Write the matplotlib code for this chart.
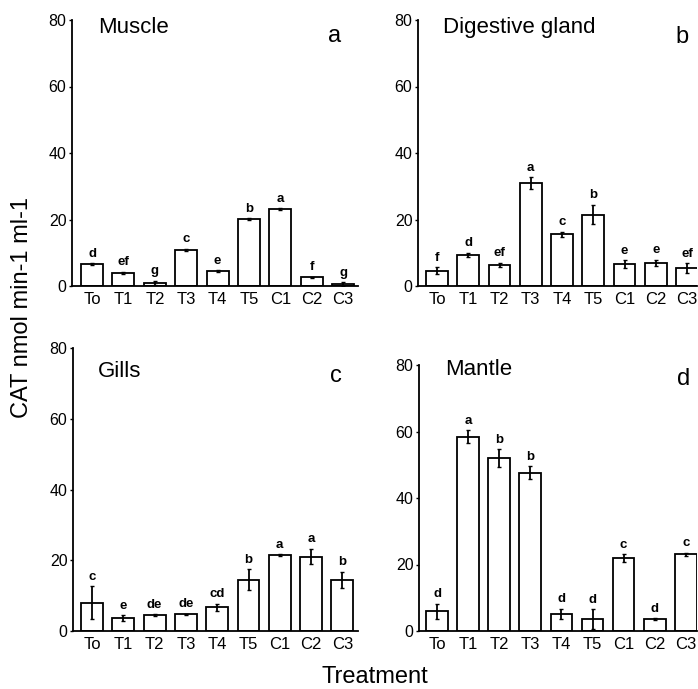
import matplotlib.pyplot as plt
import numpy as np

plt.rcParams['font.family'] = ['Liberation Sans', 'DejaVu Sans']

treatments = ['To', 'T1', 'T2', 'T3', 'T4', 'T5', 'C1', 'C2', 'C3']

muscle = [6.6, 4.0, 1.0, 10.9, 4.5, 20.2, 23.2, 2.6, 0.6]
muscle_err = [0.3, 0.3, 0.6, 0.3, 0.2, 0.2, 0.3, 0.2, 0.5]
muscle_let = ['d', 'ef', 'g', 'c', 'e', 'b', 'a', 'f', 'g']

digestive = [4.6, 9.3, 6.3, 30.9, 15.5, 21.5, 6.6, 6.9, 5.4]
digestive_err = [1.0, 0.7, 0.7, 1.8, 0.8, 3.0, 1.2, 1.0, 1.5]
digestive_let = ['f', 'd', 'ef', 'a', 'c', 'b', 'e', 'e', 'ef']

gills = [8.0, 3.7, 4.4, 4.7, 6.7, 14.5, 21.4, 21.0, 14.5]
gills_err = [4.6, 0.8, 0.3, 0.2, 1.0, 2.9, 0.3, 2.2, 2.3]
gills_let = ['c', 'e', 'de', 'de', 'cd', 'b', 'a', 'a', 'b']

mantle = [5.9, 58.4, 52.0, 47.6, 5.2, 3.6, 22.0, 3.5, 23.1]
mantle_err = [2.3, 2.0, 2.7, 2.0, 1.5, 3.0, 1.2, 0.3, 0.5]
mantle_let = ['d', 'a', 'b', 'b', 'd', 'd', 'c', 'd', 'c']

W, H = 698, 689
fig = plt.figure(figsize=(W / 100, H / 100), dpi=100)

def px(xp, yp):
    return xp / W, 1 - yp / H

# axes boxes in pixels: left, right, top, bottom; title and tag spots in pixels
panels = [
    (muscle, muscle_err, muscle_let, 'Muscle', 'a', (72, 358, 20, 286), (-0.64, 8.47), (98, 33), (335, 42)),
    (digestive, digestive_err, digestive_let, 'Digestive gland', 'b', (418, 697, 20, 286), (-0.61, 8.32), (443, 33), (682, 43)),
    (gills, gills_err, gills_let, 'Gills', 'c', (73, 358, 348, 631), (-0.61, 8.5), (98, 377), (336, 382)),
    (mantle, mantle_err, mantle_let, 'Mantle', 'd', (419, 697, 365, 631), (-0.58, 8.36), (445, 375), (684, 385)),
]

x = np.arange(len(treatments))
for vals, errs, lets, title, tag, (l, r, t, b), xl, tpos, gpos in panels:
    ax = fig.add_axes([l / W, 1 - b / H, (r - l) / W, (b - t) / H])
    ax.bar(x, vals, width=0.7, color='white', edgecolor='black', linewidth=1.3)
    ax.errorbar(x, vals, yerr=errs, fmt='none', ecolor='black', elinewidth=1.3,
                capsize=1.5, capthick=1)
    for xi, v, e, s in zip(x, vals, errs, lets):
        ax.text(xi, v + e + 1.0, s, ha='center', va='bottom', fontsize=9.5, fontweight='bold')
    ax.set_xlim(*xl)
    ax.set_ylim(0, 80)
    ax.set_yticks([0, 20, 40, 60, 80])
    ax.set_xticks(x)
    ax.set_xticklabels(treatments, fontsize=12)
    ax.tick_params(axis='y', labelsize=11.5, length=2, width=1, pad=2)
    ax.tick_params(axis='x', length=0, pad=4)
    for side in ['top', 'right']:
        ax.spines[side].set_visible(False)
    for side in ['left', 'bottom']:
        ax.spines[side].set_linewidth(1.3)
    fig.text(*px(*tpos), title, fontsize=16, va='baseline', ha='left')
    fig.text(*px(*gpos), tag, fontsize=17, va='baseline', ha='center')

fig.text(*px(22, 308), 'CAT nmol min-1 ml-1', rotation=90, fontsize=17,
         ha='center', va='center')
fig.text(*px(375, 677), 'Treatment', fontsize=17, ha='center', va='center')

fig.savefig('out.png', dpi=100)
